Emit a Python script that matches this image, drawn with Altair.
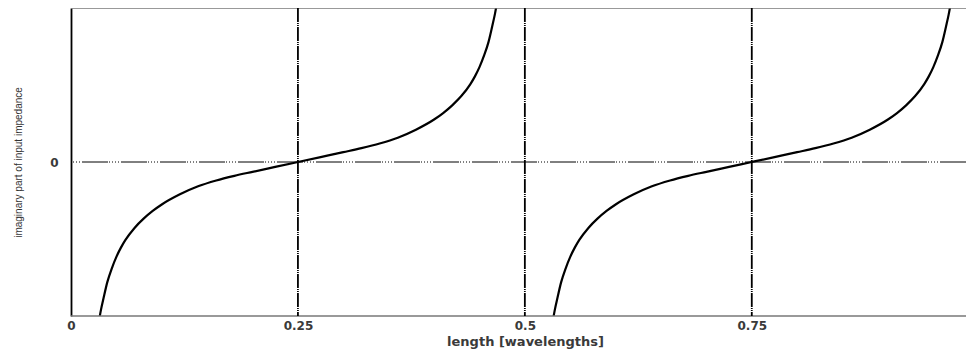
import altair as alt
import pandas as pd

# values
branch1_x = [0.030, 0.033, 0.036, 0.040, 0.045, 0.050, 0.055, 0.060, 0.070, 0.080,
             0.090, 0.100, 0.120, 0.140, 0.160, 0.180, 0.200, 0.225, 0.250, 0.275,
             0.300, 0.320, 0.340, 0.360, 0.380, 0.400, 0.410, 0.420, 0.430, 0.440,
             0.445, 0.450, 0.455, 0.460, 0.464, 0.467, 0.470]
branch1_y = [-5.3, -4.8, -4.4, -3.9, -3.45, -3.08, -2.78, -2.53, -2.14, -1.84,
             -1.59, -1.38, -1.05, -0.79, -0.60, -0.45, -0.32, -0.16, 0.0, 0.16,
             0.32, 0.45, 0.60, 0.79, 1.05, 1.38, 1.59, 1.84, 2.14, 2.53,
             2.78, 3.08, 3.45, 3.9, 4.4, 4.8, 5.3]
branch2_x = [0.530, 0.533, 0.536, 0.540, 0.545, 0.550, 0.555, 0.560, 0.570, 0.580,
             0.590, 0.600, 0.620, 0.640, 0.660, 0.680, 0.700, 0.725, 0.750, 0.775,
             0.800, 0.820, 0.840, 0.860, 0.880, 0.900, 0.910, 0.920, 0.930, 0.940,
             0.945, 0.950, 0.955, 0.960, 0.964, 0.967, 0.970]
branch2_y = [-5.3, -4.8, -4.4, -3.9, -3.45, -3.08, -2.78, -2.53, -2.14, -1.84,
             -1.59, -1.38, -1.05, -0.79, -0.60, -0.45, -0.32, -0.16, 0.0, 0.16,
             0.32, 0.45, 0.60, 0.79, 1.05, 1.38, 1.59, 1.84, 2.14, 2.53,
             2.78, 3.08, 3.45, 3.9, 4.4, 4.8, 5.3]
vlines = [0.25, 0.5, 0.75]
x_ticks = [0, 0.25, 0.5, 0.75]
y_ticks = [0]
x_domain = [0, 0.986]
y_domain = [-5, 5]

curve = pd.DataFrame({
    "x": branch1_x + branch2_x,
    "y": branch1_y + branch2_y,
    "branch": ["a"] * len(branch1_x) + ["b"] * len(branch2_x),
})
vl_df = pd.DataFrame({"x": vlines})
border_df = pd.DataFrame({"y": y_domain})
zero_df = pd.DataFrame({"y": y_ticks})

xs = alt.Scale(domain=x_domain, nice=False, zero=False)
ys = alt.Scale(domain=y_domain, nice=False, zero=False)

label_font = "DejaVu Sans"

ax_x = alt.Axis(
    title="length [wavelengths]", values=x_ticks, ticks=False, domain=False,
    grid=False, labelFlush=False, labelExpr="datum.value + ''",
    labelFont=label_font, labelFontSize=12, labelFontWeight="bold",
    labelColor="#3a3a3a", labelPadding=4,
    titleFont=label_font, titleFontSize=13, titleFontWeight="bold",
    titleColor="#3a3a3a", titleBaseline="alphabetic", titleY=29, titleX=454)
ax_y = alt.Axis(
    title="imaginary part of input impedance", values=y_ticks, ticks=False,
    domain=True, domainColor="black", domainWidth=1.8, grid=False,
    labelFont=label_font, labelFontSize=12, labelFontWeight="bold",
    labelColor="#3a3a3a", labelPadding=13,
    titleFont="Liberation Sans", titleFontSize=10, titleFontWeight="normal",
    titleColor="#333333", titleBaseline="alphabetic", titleAngle=270,
    titleX=-50, titleY=154)

line = alt.Chart(curve).mark_line(color="black", strokeWidth=2.2, clip=True,
                                  interpolate="monotone").encode(
    x=alt.X("x:Q", scale=xs, axis=ax_x),
    y=alt.Y("y:Q", scale=ys, axis=ax_y),
    detail="branch:N",
)

vrules = alt.Chart(vl_df).mark_rule(color="black", strokeWidth=1.8,
                                    strokeDash=[14, 1, 1, 1, 1, 1]).encode(
    x=alt.X("x:Q", scale=xs, axis=ax_x))

zero_rule = alt.Chart(zero_df).mark_rule(color="black", strokeWidth=1,
                                         strokeDash=[26, 2, 1, 2, 1, 2, 1, 2, 1, 1]).encode(
    y=alt.Y("y:Q", scale=ys, axis=ax_y))

borders = alt.Chart(border_df).mark_rule(color="#777777", strokeWidth=1.5).encode(
    y=alt.Y("y:Q", scale=ys, axis=ax_y))

chart = alt.layer(line, borders, zero_rule, vrules).properties(
    width=895, height=308,
    autosize=alt.AutoSizeParams(type="none"),
    padding={"left": 63, "top": 0, "right": 0, "bottom": 33},
).configure_view(stroke=None)

chart.save("out.html", embed_options={"renderer": "svg", "actions": False})
